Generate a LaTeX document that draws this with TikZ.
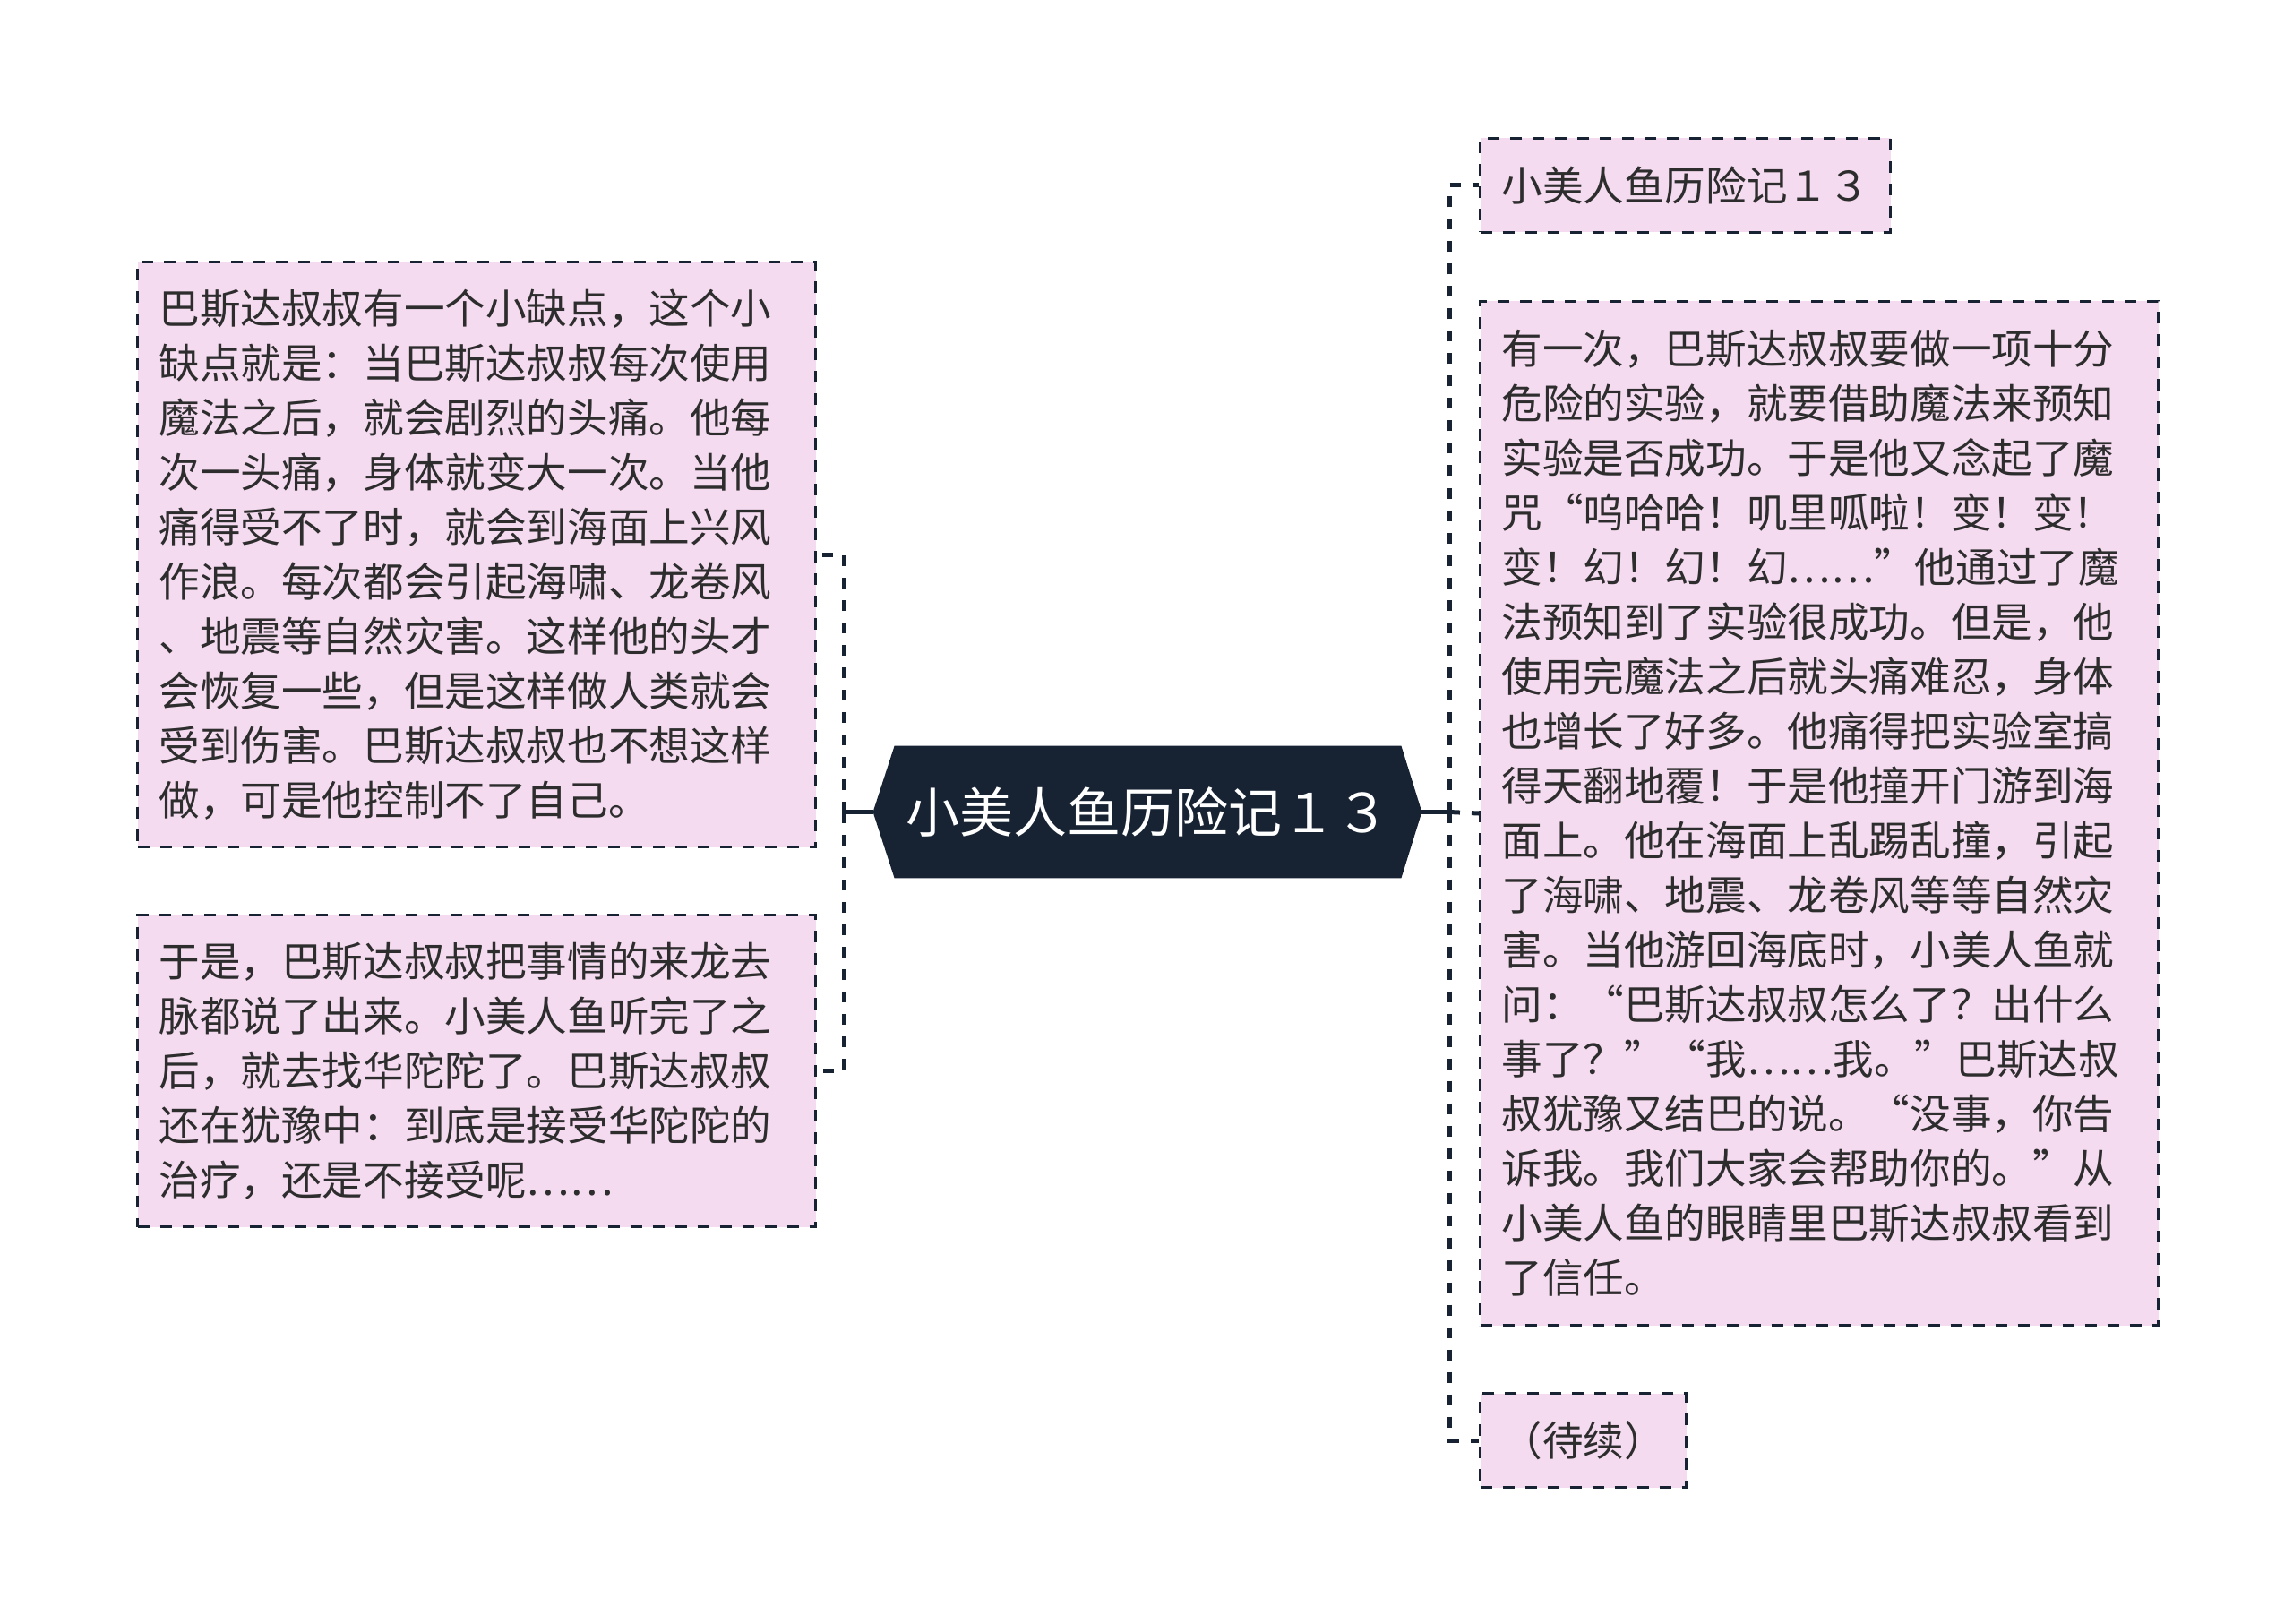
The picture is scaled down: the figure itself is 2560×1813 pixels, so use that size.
\documentclass[tikz,border=0pt]{standalone}
\usepackage{fontspec}
\newfontfamily\cjk{Noto Sans CJK SC}
\usetikzlibrary{backgrounds}
\definecolor{navy}{RGB}{23,35,51}
\definecolor{pinkfill}{RGB}{245,219,240}
\definecolor{txt}{RGB}{45,45,45}
\definecolor{linec}{RGB}{23,35,51}
\tikzset{
  box/.style={draw=linec, line width=1.5pt, dash pattern=on 6.5pt off 6pt, fill=pinkfill, text=txt,
    font=\cjk\fontsize{22.8pt}{30.5pt}\selectfont, inner xsep=12pt, inner ysep=0pt,
    anchor=north west, align=left},
  wide/.style={text width=354.5pt, minimum width=378.5pt},
  conn/.style={draw=linec, line width=2.5pt, dash pattern=on 6pt off 6.5pt},
  trunk/.style={draw=linec, line width=2.5pt},
  center/.style={text=white, font=\cjk\fontsize{30pt}{36pt}\selectfont, inner sep=0pt,
    minimum width=282.5pt, minimum height=73.5pt},
}
\begin{document}
\begin{tikzpicture}[x=0.5pt, y=-0.5pt]
\useasboundingbox (0,0) rectangle (2560,1813);

% central node
\node[center] (c) at (1281.5,906.5) {小美人鱼历险记１３};
\coordinate (cw) at ([xshift=-12pt]c.west);
\coordinate (ce) at ([xshift=11.5pt]c.east);
\begin{scope}[on background layer]
  \fill[navy] (c.north west) -- (c.north east) -- (ce) -- (c.south east) -- (c.south west) -- (cw) -- cycle;
\end{scope}

% left boxes
\node[box, wide, minimum height=326.5pt] (b1) at (152,291) {巴斯达叔叔有一个小缺点，这个小\\缺点就是：当巴斯达叔叔每次使用\\魔法之后，就会剧烈的头痛。他每\\次一头痛，身体就变大一次。当他\\痛得受不了时，就会到海面上兴风\\作浪。每次都会引起海啸、龙卷风\\、地震等自然灾害。这样他的头才\\会恢复一些，但是这样做人类就会\\受到伤害。巴斯达叔叔也不想这样\\做，可是他控制不了自己。};
\node[box, wide, minimum height=174pt] (b2) at (152,1020) {于是，巴斯达叔叔把事情的来龙去\\脉都说了出来。小美人鱼听完了之\\后，就去找华陀陀了。巴斯达叔叔\\还在犹豫中：到底是接受华陀陀的\\治疗，还是不接受呢……};

% right boxes
\node[box, minimum width=228.5pt, minimum height=52.5pt] (t1) at (1651,153) {小美人鱼历险记１３};
\node[box, wide, minimum height=571.5pt] (t2) at (1651,335) {有一次，巴斯达叔叔要做一项十分\\危险的实验，就要借助魔法来预知\\实验是否成功。于是他又念起了魔\\咒“呜哈哈！叽里呱啦！变！变！\\变！幻！幻！幻……”他通过了魔\\法预知到了实验很成功。但是，他\\使用完魔法之后就头痛难忍，身体\\也增长了好多。他痛得把实验室搞\\得天翻地覆！于是他撞开门游到海\\面上。他在海面上乱踢乱撞，引起\\了海啸、地震、龙卷风等等自然灾\\害。当他游回海底时，小美人鱼就\\问：“巴斯达叔叔怎么了？出什么\\事了？”“我……我。”巴斯达叔\\叔犹豫又结巴的说。“没事，你告\\诉我。我们大家会帮助你的。”从\\小美人鱼的眼睛里巴斯达叔叔看到\\了信任。};
\node[box, minimum width=114pt, minimum height=52.5pt] (t3) at (1651,1554) {（待续）};

% connectors
\coordinate (ls) at (942,906.5);
\coordinate (rs) at (1618,906.5);
\draw[trunk] (cw) -- (ls);
\draw[trunk] (ce) -- (rs);
\draw[conn] (ls) |- (b1.east);
\draw[conn] (ls) |- (b2.east);
\draw[conn] (rs) |- (t1.west);
\draw[conn] (rs) |- (t3.west);
\draw[conn] (rs) -- (t2.west);
\end{tikzpicture}
\end{document}
